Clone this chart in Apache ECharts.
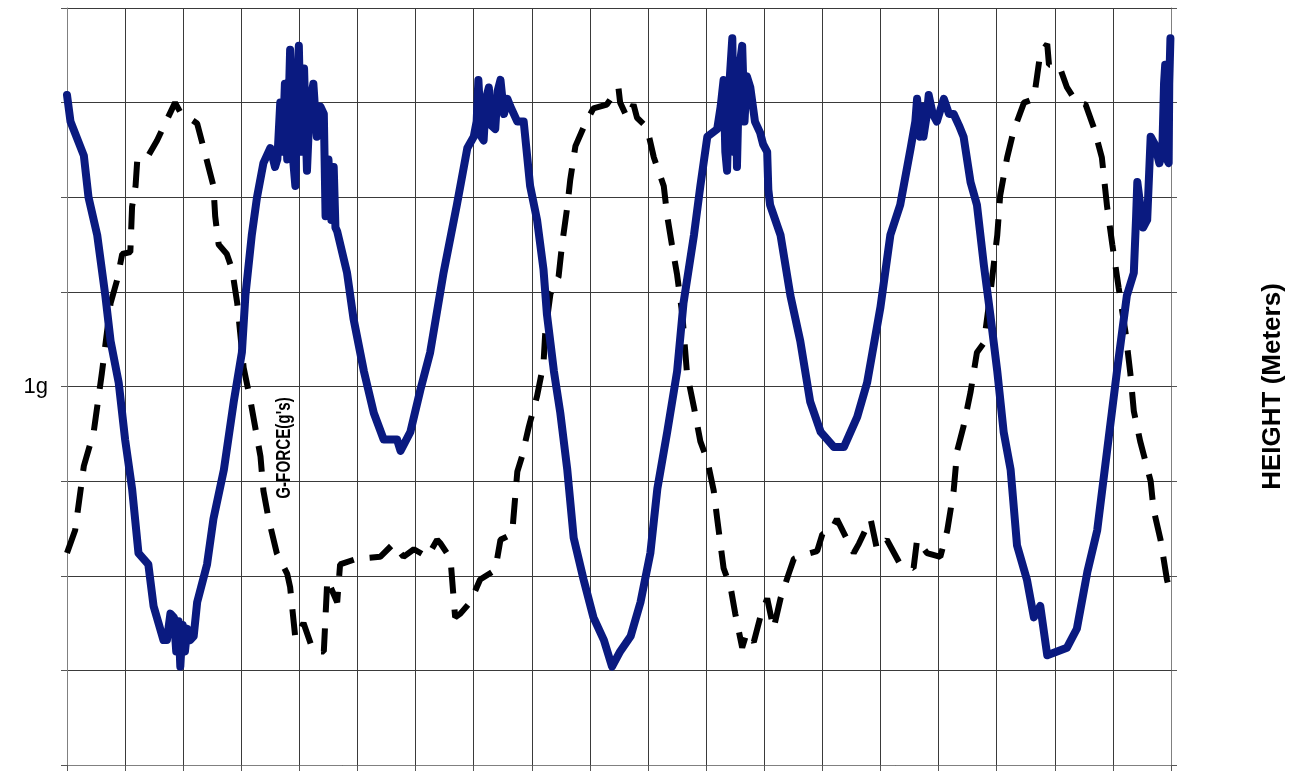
<!DOCTYPE html>
<html>
<head>
<meta charset="utf-8">
<title>G-force and height</title>
<script src="https://cdn.jsdelivr.net/npm/echarts@6/dist/echarts.min.js"></script>
<style>
  html, body { margin: 0; padding: 0; background: #fff; }
  #main { width: 1298px; height: 771px; }
</style>
</head>
<body>
<div id="main"></div>
<script>
// time (grid units) and g-force readings, blue trace
var gTime = [0, 0.06, 0.29, 0.37, 0.52, 0.66, 0.75, 0.89, 1.00, 1.12, 1.23, 1.40, 1.49,
  1.66, 1.72, 1.78, 1.84, 1.88, 1.92, 1.95, 1.99, 2.03, 2.07, 2.12, 2.18, 2.24,
  2.41, 2.52, 2.70, 2.87, 3.01, 3.07, 3.18, 3.27,
  3.38, 3.50, 3.58, 3.62, 3.67, 3.71, 3.75, 3.79, 3.84, 3.88, 3.93, 3.96, 3.99, 4.03, 4.08, 4.13,
  4.18, 4.24, 4.30, 4.36, 4.42, 4.45, 4.50, 4.55, 4.59, 4.62, 4.65,
  4.82, 4.93, 5.11, 5.28, 5.45, 5.68, 5.74, 5.91, 6.08, 6.25, 6.48, 6.71,
  6.89, 7.00, 7.05, 7.08, 7.13, 7.17, 7.21, 7.26, 7.30, 7.37, 7.41, 7.46, 7.52, 7.58, 7.63, 7.75, 7.86,
  7.97, 8.09, 8.20, 8.26, 8.38, 8.49, 8.61, 8.72, 8.89, 9.06, 9.24, 9.38, 9.52, 9.70, 9.87,
  10.04, 10.16, 10.33, 10.50, 10.61, 10.79, 10.90,
  11.02, 11.19, 11.25, 11.30, 11.33, 11.36, 11.40, 11.45, 11.48, 11.51, 11.53, 11.57, 11.62, 11.66,
  11.70, 11.76, 11.84, 11.93, 11.98, 12.05, 12.07, 12.10,
  12.28, 12.45, 12.62, 12.79, 12.97, 13.20, 13.37, 13.60, 13.77, 14.00, 14.17, 14.34,
  14.52, 14.60, 14.63, 14.68, 14.72, 14.74, 14.80, 14.83, 14.90, 14.97, 15.05, 15.09, 15.18, 15.26,
  15.35, 15.43, 15.55, 15.66, 15.78, 15.89, 16.01, 16.12, 16.24, 16.35, 16.52, 16.64, 16.75, 16.87,
  17.04, 17.21, 17.38, 17.56, 17.73, 17.90, 18.07, 18.24,
  18.36, 18.40, 18.42, 18.47, 18.52, 18.59, 18.65, 18.72, 18.80, 18.85, 18.88, 18.90, 18.93, 18.96, 18.97, 18.99];
var gForce = [1.77, 1.70, 1.61, 1.50, 1.40, 1.24, 1.12, 1.01, 0.86, 0.73, 0.56, 0.53, 0.42,
  0.33, 0.33, 0.40, 0.39, 0.30, 0.38, 0.26, 0.37, 0.30, 0.36, 0.33, 0.34, 0.43,
  0.53, 0.65, 0.78, 0.96, 1.09, 1.24, 1.40, 1.50,
  1.59, 1.63, 1.58, 1.60, 1.75, 1.62, 1.80, 1.60, 1.89, 1.62, 1.53, 1.78, 1.90, 1.62, 1.84, 1.57,
  1.75, 1.80, 1.66, 1.74, 1.72, 1.45, 1.60, 1.44, 1.58, 1.42, 1.41,
  1.30, 1.18, 1.04, 0.93, 0.86, 0.86, 0.83, 0.88, 0.99, 1.09, 1.30, 1.48,
  1.63, 1.66, 1.70, 1.81, 1.66, 1.65, 1.76, 1.79, 1.69, 1.68, 1.78, 1.81, 1.72, 1.76, 1.74, 1.70, 1.70,
  1.53, 1.44, 1.31, 1.19, 1.04, 0.93, 0.78, 0.60, 0.49, 0.39, 0.33, 0.26, 0.30, 0.34, 0.43,
  0.56, 0.73, 0.88, 1.04, 1.22, 1.40, 1.53,
  1.66, 1.68, 1.74, 1.81, 1.62, 1.57, 1.80, 1.92, 1.62, 1.86, 1.58, 1.84, 1.90, 1.70,
  1.82, 1.79, 1.70, 1.67, 1.64, 1.62, 1.52, 1.48,
  1.40, 1.24, 1.12, 0.96, 0.88, 0.84, 0.84, 0.92, 1.01, 1.21, 1.40, 1.48,
  1.63, 1.70, 1.76, 1.66, 1.74, 1.66, 1.72, 1.77, 1.72, 1.70, 1.74, 1.76, 1.72, 1.72,
  1.69, 1.66, 1.54, 1.48, 1.32, 1.19, 1.04, 0.88, 0.78, 0.58, 0.49, 0.39, 0.42, 0.29,
  0.30, 0.31, 0.36, 0.51, 0.62, 0.83, 1.04, 1.24,
  1.30, 1.45, 1.54, 1.48, 1.42, 1.44, 1.66, 1.64, 1.59, 1.62, 1.80, 1.85, 1.60, 1.59, 1.80, 1.92];

// time and height (meters), black dashed trace
var hTime = [0, 0.14, 0.29, 0.46, 0.60, 0.75, 0.86, 0.95, 1.09, 1.12, 1.18, 1.21, 1.38, 1.55, 1.72,
  1.86, 1.95, 2.24, 2.41, 2.52, 2.55, 2.61, 2.75, 2.84, 2.93, 3.04, 3.16, 3.33, 3.38, 3.47,
  3.61, 3.79, 3.84, 3.93, 4.07, 4.24, 4.42, 4.48, 4.65, 4.70, 4.99, 5.39, 5.62, 5.79, 5.97,
  6.20, 6.37, 6.43, 6.60, 6.68, 6.77, 6.94, 7.11, 7.37, 7.46, 7.66, 7.75, 7.83, 7.95, 8.09,
  8.20, 8.23, 8.32, 8.46, 8.52, 8.61, 8.66, 8.75, 8.92, 9.06, 9.29, 9.49, 9.52, 9.64, 9.75,
  9.81, 9.98, 10.10, 10.27, 10.33, 10.41, 10.50, 10.59, 10.67, 10.79, 10.90, 11.02, 11.13,
  11.19, 11.30, 11.42, 11.50, 11.62, 11.70, 11.82, 11.93, 12.05, 12.16, 12.28, 12.42, 12.51,
  12.79, 12.91, 13.00, 13.14, 13.25, 13.54, 13.63, 13.83, 13.94, 14.11, 14.34, 14.57, 14.63,
  14.80, 15.03, 15.15, 15.26, 15.32, 15.43, 15.55, 15.66, 15.78, 15.89, 16.01, 16.06, 16.18,
  16.29, 16.47, 16.64, 16.70, 16.75, 16.87, 16.90, 17.07, 17.21, 17.38, 17.53, 17.67, 17.81,
  17.90, 17.99, 18.10, 18.22, 18.30, 18.36, 18.47, 18.65, 18.70, 18.82, 18.93, 18.99];
var height = [11.2, 12.4, 15.8, 17.6, 20.7, 24.4, 25.6, 27.0, 27.1, 29.5, 30.6, 32.0, 32.1, 33.0, 34.1,
  35.0, 34.5, 33.9, 31.9, 30.6, 29.0, 27.5, 27.0, 26.2, 24.4, 21.0, 19.2, 16.3, 14.5, 13.0,
  11.2, 10.1, 9.4, 6.7, 7.5, 6.0, 6.0, 9.8, 8.6, 10.6, 10.9, 11.0, 11.7, 11.0, 11.4,
  11.0, 11.9, 11.7, 10.9, 7.8, 8.0, 8.6, 9.8, 10.3, 11.9, 12.2, 15.5, 16.3, 17.9, 19.5,
  21.2, 22.8, 24.9, 25.8, 27.5, 29.5, 30.9, 32.7, 33.9, 34.7, 34.9, 35.8, 35.0, 34.2, 34.9,
  34.2, 33.7, 32.1, 30.6, 29.0, 27.5, 25.9, 23.8, 20.7, 18.9, 17.1, 16.1, 14.5,
  13.0, 10.4, 9.4, 8.0, 6.2, 7.0, 6.5, 7.8, 8.8, 7.2, 8.8, 10.1, 10.9,
  11.2, 11.3, 12.2, 12.3, 13.0, 11.2, 11.7, 13.0, 11.4, 11.9, 10.6, 10.4, 11.9,
  11.2, 11.0, 12.4, 14.5, 16.6, 17.9, 19.7, 21.8, 22.3, 24.9, 28.0, 30.1, 32.1,
  33.5, 35.0, 35.2, 36.5, 37.6, 38.1, 37.0, 37.0, 35.8, 35.0, 34.9, 33.7, 32.1,
  29.5, 27.5, 25.2, 22.8, 20.7, 18.7, 17.1, 15.0, 13.5, 11.9, 9.8, 9.1];

function zip(xs, ys) {
  var out = [];
  for (var i = 0; i < xs.length; i++) {
    out.push([xs[i], ys[i]]);
  }
  return out;
}

var myChart = echarts.init(document.getElementById('main'));

var option = {
  animation: false,
  backgroundColor: '#ffffff',
  grid: { left: 67, right: 127, top: 8, bottom: 6 },
  xAxis: {
    type: 'value',
    min: 0,
    max: 19,
    interval: 1,
    axisLine: { show: true, lineStyle: { color: '#808080', width: 1 } },
    axisTick: { show: true, inside: false, length: 6, lineStyle: { color: '#555' } },
    axisLabel: { show: false },
    splitLine: { show: true, lineStyle: { color: '#3a3a3a', width: 1 } }
  },
  yAxis: [
    {
      // g-force axis, only 1g labelled
      type: 'value',
      min: 0,
      max: 2,
      interval: 0.25,
      axisLine: { show: true, lineStyle: { color: '#808080', width: 1 } },
      axisTick: { show: true, inside: false, length: 6, lineStyle: { color: '#555' } },
      axisLabel: {
        show: true,
        margin: 19,
        fontSize: 22,
        color: '#000',
        fontFamily: 'Liberation Sans, Arial, sans-serif',
        formatter: function (v) { return v === 1 ? '1g' : ''; }
      },
      splitLine: { show: true, lineStyle: { color: '#3a3a3a', width: 1 } }
    },
    {
      type: 'value',
      position: 'right',
      min: 0,
      max: 40,
      interval: 5,
      name: 'HEIGHT (Meters)',
      nameLocation: 'middle',
      nameRotate: 90,
      nameGap: 89,
      nameTextStyle: {
        fontSize: 26,
        fontWeight: 'bold',
        color: '#000',
        fontFamily: 'Liberation Sans, Arial, sans-serif'
      },
      axisLine: { show: true, lineStyle: { color: '#808080', width: 1 } },
      axisTick: { show: true, inside: false, length: 6, lineStyle: { color: '#555' } },
      axisLabel: { show: false },
      splitLine: { show: false }
    }
  ],
  graphic: [
    {
      // condensed label sitting inside the plot
      type: 'text',
      x: 284,
      y: 448,
      rotation: Math.PI / 2,
      scaleX: 0.76,
      style: {
        text: "G-FORCE(g's)",
        fontSize: 20,
        fontWeight: 'bold',
        fontFamily: 'Liberation Sans, Arial, sans-serif',
        fill: '#000',
        align: 'center',
        verticalAlign: 'middle'
      }
    }
  ],
  series: [
    {
      name: 'HEIGHT',
      type: 'line',
      yAxisIndex: 1,
      showSymbol: false,
      lineStyle: { color: '#000', width: 6, type: [26, 16], cap: 'butt' },
      data: zip(hTime, height)
    },
    {
      name: 'G-FORCE',
      type: 'line',
      yAxisIndex: 0,
      showSymbol: false,
      lineStyle: { color: '#0a1a80', width: 8, join: 'round', cap: 'round' },
      data: zip(gTime, gForce)
    }
  ]
};

myChart.setOption(option);
</script>
</body>
</html>
